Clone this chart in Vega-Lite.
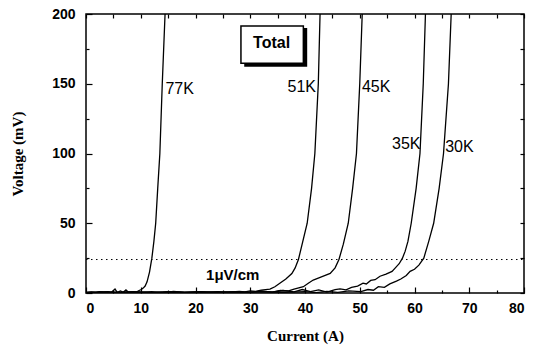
{
  "$schema": "https://vega.github.io/schema/vega-lite/v6.json",
  "width": 438,
  "height": 279,
  "autosize": "none",
  "padding": {"left": 86, "top": 14, "right": 21, "bottom": 54},
  "background": "white",
  "config": {
    "view": {"stroke": "black", "strokeWidth": 1.5},
    "axis": {"grid": false, "domain": false, "tickColor": "black", "tickWidth": 1.2, "labelColor": "black", "titleColor": "black"}
  },
  "datasets": {
    "curves": [
      {"series": "77K", "current": 0, "voltage": 0.3},
      {"series": "77K", "current": 1, "voltage": 0.8},
      {"series": "77K", "current": 1.8, "voltage": 0.2},
      {"series": "77K", "current": 2.5, "voltage": 1.0},
      {"series": "77K", "current": 3.2, "voltage": 0.4},
      {"series": "77K", "current": 4, "voltage": 0.9},
      {"series": "77K", "current": 4.6, "voltage": 0.3},
      {"series": "77K", "current": 5.3, "voltage": 2.8},
      {"series": "77K", "current": 5.7, "voltage": 0.4},
      {"series": "77K", "current": 6.3, "voltage": 1.5},
      {"series": "77K", "current": 6.8, "voltage": 0.5},
      {"series": "77K", "current": 7.3, "voltage": 2.2},
      {"series": "77K", "current": 7.8, "voltage": 0.4},
      {"series": "77K", "current": 8.5, "voltage": 1.0},
      {"series": "77K", "current": 9.2, "voltage": 0.6},
      {"series": "77K", "current": 9.7, "voltage": 1.8},
      {"series": "77K", "current": 10.1, "voltage": 2.5},
      {"series": "77K", "current": 10.45, "voltage": 3.5},
      {"series": "77K", "current": 10.8, "voltage": 5},
      {"series": "77K", "current": 11.15, "voltage": 8},
      {"series": "77K", "current": 11.6, "voltage": 15},
      {"series": "77K", "current": 12.03, "voltage": 25},
      {"series": "77K", "current": 12.4, "voltage": 37},
      {"series": "77K", "current": 12.73, "voltage": 50},
      {"series": "77K", "current": 13.1, "voltage": 75},
      {"series": "77K", "current": 13.49, "voltage": 100},
      {"series": "77K", "current": 13.93, "voltage": 150},
      {"series": "77K", "current": 14.44, "voltage": 200},

      {"series": "51K", "current": 0, "voltage": 0.5},
      {"series": "51K", "current": 2, "voltage": 0.2},
      {"series": "51K", "current": 4, "voltage": 0.8},
      {"series": "51K", "current": 6, "voltage": 0.3},
      {"series": "51K", "current": 8, "voltage": 0.6},
      {"series": "51K", "current": 10, "voltage": 0.4},
      {"series": "51K", "current": 12, "voltage": 0.9},
      {"series": "51K", "current": 14, "voltage": 0.3},
      {"series": "51K", "current": 16, "voltage": 1.2},
      {"series": "51K", "current": 18, "voltage": 0.4},
      {"series": "51K", "current": 20, "voltage": 0.8},
      {"series": "51K", "current": 22, "voltage": 0.5},
      {"series": "51K", "current": 24, "voltage": 1.0},
      {"series": "51K", "current": 26, "voltage": 0.6},
      {"series": "51K", "current": 28, "voltage": 1.2},
      {"series": "51K", "current": 29, "voltage": 0.8},
      {"series": "51K", "current": 30, "voltage": 1.5},
      {"series": "51K", "current": 31, "voltage": 1.2},
      {"series": "51K", "current": 32, "voltage": 2.0},
      {"series": "51K", "current": 33.6, "voltage": 2.8},
      {"series": "51K", "current": 34.5, "voltage": 4.5},
      {"series": "51K", "current": 35.4, "voltage": 7},
      {"series": "51K", "current": 36.5, "voltage": 10},
      {"series": "51K", "current": 37.6, "voltage": 14},
      {"series": "51K", "current": 38.2, "voltage": 18},
      {"series": "51K", "current": 38.8, "voltage": 24},
      {"series": "51K", "current": 39.6, "voltage": 37},
      {"series": "51K", "current": 40.4, "voltage": 50},
      {"series": "51K", "current": 41.2, "voltage": 75},
      {"series": "51K", "current": 41.8, "voltage": 100},
      {"series": "51K", "current": 42.43, "voltage": 150},
      {"series": "51K", "current": 42.75, "voltage": 200},

      {"series": "45K", "current": 0, "voltage": 0.2},
      {"series": "45K", "current": 3, "voltage": 0.7},
      {"series": "45K", "current": 6, "voltage": 0.3},
      {"series": "45K", "current": 9, "voltage": 0.8},
      {"series": "45K", "current": 12, "voltage": 0.4},
      {"series": "45K", "current": 15, "voltage": 0.6},
      {"series": "45K", "current": 18, "voltage": 0.2},
      {"series": "45K", "current": 21, "voltage": 0.9},
      {"series": "45K", "current": 24, "voltage": 0.4},
      {"series": "45K", "current": 27, "voltage": 0.8},
      {"series": "45K", "current": 30, "voltage": 0.5},
      {"series": "45K", "current": 32, "voltage": 1.2},
      {"series": "45K", "current": 34, "voltage": 0.7},
      {"series": "45K", "current": 35.5, "voltage": 1.8},
      {"series": "45K", "current": 37, "voltage": 1.5},
      {"series": "45K", "current": 38, "voltage": 2.8},
      {"series": "45K", "current": 39.7, "voltage": 4.5},
      {"series": "45K", "current": 40.6, "voltage": 7},
      {"series": "45K", "current": 41.5, "voltage": 9.3},
      {"series": "45K", "current": 43, "voltage": 11.5},
      {"series": "45K", "current": 44.6, "voltage": 14},
      {"series": "45K", "current": 45.5, "voltage": 18},
      {"series": "45K", "current": 46.2, "voltage": 24},
      {"series": "45K", "current": 47, "voltage": 35},
      {"series": "45K", "current": 47.9, "voltage": 50},
      {"series": "45K", "current": 48.7, "voltage": 75},
      {"series": "45K", "current": 49.4, "voltage": 100},
      {"series": "45K", "current": 50, "voltage": 150},
      {"series": "45K", "current": 50.45, "voltage": 200},

      {"series": "35K", "current": 0, "voltage": 0.3},
      {"series": "35K", "current": 3, "voltage": 0.8},
      {"series": "35K", "current": 6, "voltage": 0.2},
      {"series": "35K", "current": 9, "voltage": 0.6},
      {"series": "35K", "current": 12, "voltage": 0.3},
      {"series": "35K", "current": 15, "voltage": 0.9},
      {"series": "35K", "current": 18, "voltage": 0.4},
      {"series": "35K", "current": 21, "voltage": 0.7},
      {"series": "35K", "current": 24, "voltage": 0.3},
      {"series": "35K", "current": 27, "voltage": 0.9},
      {"series": "35K", "current": 30, "voltage": 0.5},
      {"series": "35K", "current": 32, "voltage": 1.5},
      {"series": "35K", "current": 34, "voltage": 0.6},
      {"series": "35K", "current": 36, "voltage": 1.8},
      {"series": "35K", "current": 38, "voltage": 0.8},
      {"series": "35K", "current": 39.5, "voltage": 2.5},
      {"series": "35K", "current": 41, "voltage": 1.0},
      {"series": "35K", "current": 42.5, "voltage": 2.2},
      {"series": "35K", "current": 44, "voltage": 0.6},
      {"series": "35K", "current": 45.5, "voltage": 2.5},
      {"series": "35K", "current": 46.4, "voltage": 3},
      {"series": "35K", "current": 47.5, "voltage": 2.2},
      {"series": "35K", "current": 48.5, "voltage": 4},
      {"series": "35K", "current": 49.6, "voltage": 5},
      {"series": "35K", "current": 50.6, "voltage": 7},
      {"series": "35K", "current": 51.2, "voltage": 6.5},
      {"series": "35K", "current": 52, "voltage": 9},
      {"series": "35K", "current": 52.8, "voltage": 9.5},
      {"series": "35K", "current": 53.7, "voltage": 12},
      {"series": "35K", "current": 54.8, "voltage": 13.5},
      {"series": "35K", "current": 55.9, "voltage": 15.5},
      {"series": "35K", "current": 56.5, "voltage": 18},
      {"series": "35K", "current": 57.2, "voltage": 21},
      {"series": "35K", "current": 57.8, "voltage": 25},
      {"series": "35K", "current": 58.3, "voltage": 30},
      {"series": "35K", "current": 58.8, "voltage": 37},
      {"series": "35K", "current": 59.4, "voltage": 50},
      {"series": "35K", "current": 60.3, "voltage": 75},
      {"series": "35K", "current": 61, "voltage": 100},
      {"series": "35K", "current": 61.6, "voltage": 150},
      {"series": "35K", "current": 62.0, "voltage": 200},

      {"series": "30K", "current": 0, "voltage": 0.5},
      {"series": "30K", "current": 4, "voltage": 0.2},
      {"series": "30K", "current": 8, "voltage": 0.7},
      {"series": "30K", "current": 12, "voltage": 0.3},
      {"series": "30K", "current": 16, "voltage": 0.8},
      {"series": "30K", "current": 20, "voltage": 0.4},
      {"series": "30K", "current": 24, "voltage": 0.7},
      {"series": "30K", "current": 28, "voltage": 0.3},
      {"series": "30K", "current": 32, "voltage": 0.9},
      {"series": "30K", "current": 36, "voltage": 0.4},
      {"series": "30K", "current": 40, "voltage": 1.0},
      {"series": "30K", "current": 42, "voltage": 0.3},
      {"series": "30K", "current": 44, "voltage": 1.2},
      {"series": "30K", "current": 46, "voltage": 0.5},
      {"series": "30K", "current": 48, "voltage": 1.5},
      {"series": "30K", "current": 50.2, "voltage": 1.0},
      {"series": "30K", "current": 51.5, "voltage": 2.5},
      {"series": "30K", "current": 52.5, "voltage": 2.0},
      {"series": "30K", "current": 53.4, "voltage": 4.5},
      {"series": "30K", "current": 54.5, "voltage": 4.0},
      {"series": "30K", "current": 55.5, "voltage": 6.5},
      {"series": "30K", "current": 56.7, "voltage": 8.5},
      {"series": "30K", "current": 57.5, "voltage": 10},
      {"series": "30K", "current": 58.5, "voltage": 12.5},
      {"series": "30K", "current": 59.2, "voltage": 15.5},
      {"series": "30K", "current": 60, "voltage": 17},
      {"series": "30K", "current": 60.8, "voltage": 20},
      {"series": "30K", "current": 61.7, "voltage": 25},
      {"series": "30K", "current": 62.6, "voltage": 37},
      {"series": "30K", "current": 63.5, "voltage": 50},
      {"series": "30K", "current": 64.5, "voltage": 75},
      {"series": "30K", "current": 65.3, "voltage": 100},
      {"series": "30K", "current": 66.2, "voltage": 150},
      {"series": "30K", "current": 66.7, "voltage": 200}
    ],
    "labels": [
      {"text": "77K", "current": 14.5, "voltage": 146, "align": "left"},
      {"text": "51K", "current": 42.0, "voltage": 147.5, "align": "right"},
      {"text": "45K", "current": 50.4, "voltage": 148, "align": "left"},
      {"text": "35K", "current": 61.1, "voltage": 107, "align": "right"},
      {"text": "30K", "current": 65.6, "voltage": 105, "align": "left"}
    ],
    "note": [
      {"text": "1μV/cm", "current": 26.8, "voltage": 13}
    ],
    "box": [
      {"label": "Total", "x1": 28.3, "x2": 39.7, "y1": 164.7, "y2": 191.4, "sx1": 28.9, "sx2": 40.4, "sy1": 162.2, "sy2": 190, "cx": 33.9, "cy": 179}
    ],
    "threshold": [
      {"voltage": 24}
    ]
  },
  "resolve": {"axis": {"x": "independent", "y": "independent"}},
  "layer": [
    {
      "data": {"name": "curves"},
      "mark": {"type": "line", "color": "black", "strokeWidth": 1.3, "clip": true},
      "encoding": {
        "x": {"field": "current", "type": "quantitative", "scale": {"domain": [0, 80], "nice": false},
          "axis": {"orient": "bottom", "values": [0, 10, 20, 30, 40, 50, 60, 70, 80], "tickSize": -6, "labelPadding": 14,
            "labelFont": "Liberation Sans", "labelFontWeight": "bold", "labelFontSize": 14,
            "title": "Current (A)", "titleFont": "Liberation Serif", "titleFontWeight": "bold", "titleFontSize": 15, "titlePadding": 13}},
        "y": {"field": "voltage", "type": "quantitative", "scale": {"domain": [0, 200], "nice": false},
          "axis": {"orient": "left", "values": [0, 50, 100, 150, 200], "tickSize": -6, "labelPadding": 17,
            "labelFont": "Liberation Sans", "labelFontWeight": "bold", "labelFontSize": 14,
            "title": "Voltage (mV)", "titleFont": "Liberation Serif", "titleFontWeight": "bold", "titleFontSize": 15, "titlePadding": 26}},
        "detail": {"field": "series"},
        "order": {"field": "current", "type": "quantitative"}
      }
    },
    {
      "data": {"name": "threshold"},
      "mark": {"type": "rule", "color": "black", "strokeWidth": 1, "strokeDash": [1.5, 3.5]},
      "encoding": {
        "y": {"field": "voltage", "type": "quantitative",
          "axis": {"orient": "left", "values": [25, 75, 125, 175], "tickSize": -3, "labels": false, "title": null}},
        "x": {"datum": 0, "type": "quantitative",
          "axis": {"orient": "bottom", "values": [5, 15, 25, 35, 45, 55, 65, 75], "tickSize": -3, "labels": false, "title": null}},
        "x2": {"datum": 80}
      }
    },
    {
      "data": {"name": "labels"},
      "transform": [{"filter": "datum.align === 'left'"}],
      "mark": {"type": "text", "font": "Liberation Sans", "fontSize": 16, "baseline": "middle", "align": "left", "color": "black"},
      "encoding": {
        "x": {"field": "current", "type": "quantitative",
          "axis": {"orient": "top", "values": [0, 5, 10, 15, 20, 25, 30, 35, 40, 45, 50, 55, 60, 65, 70, 75, 80], "tickSize": -4, "labels": false, "title": null}},
        "y": {"field": "voltage", "type": "quantitative",
          "axis": {"orient": "right", "values": [0, 25, 50, 75, 100, 125, 150, 175, 200], "tickSize": -4, "labels": false, "title": null}},
        "text": {"field": "text"}
      }
    },
    {
      "data": {"name": "labels"},
      "transform": [{"filter": "datum.align === 'right'"}],
      "mark": {"type": "text", "font": "Liberation Sans", "fontSize": 16, "baseline": "middle", "align": "right", "color": "black"},
      "encoding": {
        "x": {"field": "current", "type": "quantitative", "axis": null},
        "y": {"field": "voltage", "type": "quantitative", "axis": null},
        "text": {"field": "text"}
      }
    },
    {
      "data": {"name": "note"},
      "mark": {"type": "text", "font": "Liberation Sans", "fontSize": 15, "fontWeight": "bold", "baseline": "middle", "align": "center", "color": "black"},
      "encoding": {
        "x": {"field": "current", "type": "quantitative", "axis": null},
        "y": {"field": "voltage", "type": "quantitative", "axis": null},
        "text": {"field": "text"}
      }
    },
    {
      "data": {"name": "box"},
      "mark": {"type": "rect", "color": "black"},
      "encoding": {
        "x": {"field": "sx1", "type": "quantitative", "axis": null},
        "x2": {"field": "sx2"},
        "y": {"field": "sy1", "type": "quantitative", "axis": null},
        "y2": {"field": "sy2"}
      }
    },
    {
      "data": {"name": "box"},
      "mark": {"type": "rect", "fill": "white", "stroke": "black", "strokeWidth": 1.5},
      "encoding": {
        "x": {"field": "x1", "type": "quantitative", "axis": null},
        "x2": {"field": "x2"},
        "y": {"field": "y1", "type": "quantitative", "axis": null},
        "y2": {"field": "y2"}
      }
    },
    {
      "data": {"name": "box"},
      "mark": {"type": "text", "font": "Liberation Sans", "fontSize": 16, "fontWeight": "bold", "baseline": "middle", "align": "center", "color": "black"},
      "encoding": {
        "x": {"field": "cx", "type": "quantitative", "axis": null},
        "y": {"field": "cy", "type": "quantitative", "axis": null},
        "text": {"field": "label"}
      }
    }
  ]
}
